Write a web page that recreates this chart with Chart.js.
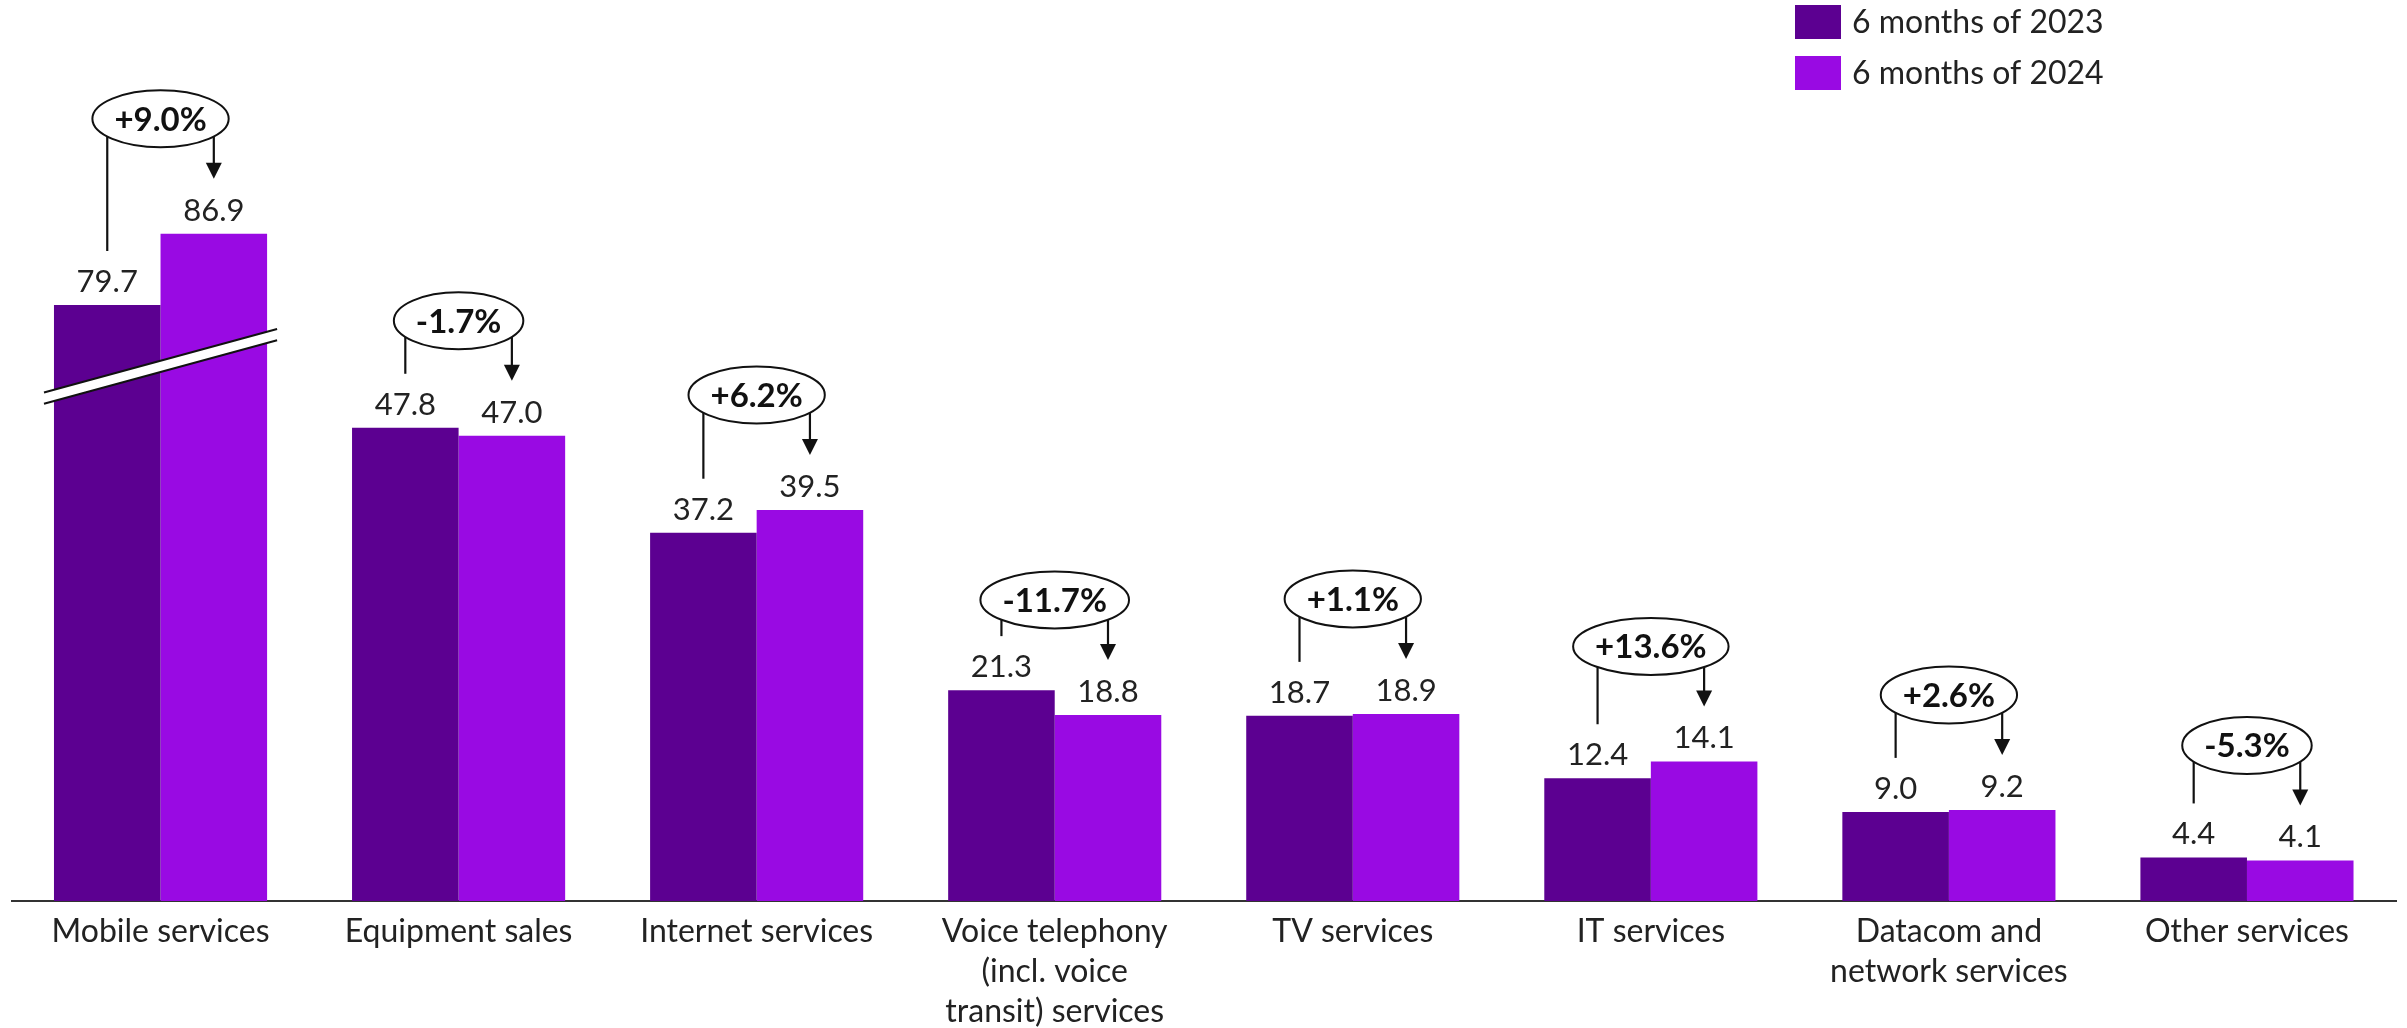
<!DOCTYPE html>
<html>
<head>
<meta charset="utf-8">
<style>
html,body{margin:0;padding:0;background:#fff;}
#wrap{width:2407px;height:1028px;position:relative;}
</style>
<script src="https://cdn.jsdelivr.net/npm/chart.js@4.4.1/dist/chart.umd.min.js"></script>
</head>
<body>
<div id="wrap"><canvas id="c" width="2407" height="1028"></canvas></div>
<script>
const categories = [
  'Mobile services',
  'Equipment sales',
  'Internet services',
  ['Voice telephony', '(incl. voice', 'transit) services'],
  'TV services',
  'IT services',
  ['Datacom and', 'network services'],
  'Other services'
];
const seriesNames = ['6 months of 2023', '6 months of 2024'];
const values2023 = [79.7, 47.8, 37.2, 21.3, 18.7, 12.4, 9.0, 4.4];
const values2024 = [86.9, 47.0, 39.5, 18.8, 18.9, 14.1, 9.2, 4.1];
const changeLabels = ['+9.0%', '-1.7%', '+6.2%', '-11.7%', '+1.1%', '+13.6%', '+2.6%', '-5.3%'];
const brokenCategories = [0];   // categories drawn with an axis break
const breakGap = 19.5;          // value units cut out by the break
const breakAt = 54;             // displayed value where the break band sits
const yMax = 80;

const colors = ['#5C0091', '#990AE3'];
const FONT = 'Lato, "Noto Sans", sans-serif';

function displayed(vals) {
  return vals.map((v, i) => brokenCategories.includes(i) ? v - breakGap : v);
}

const annotPlugin = {
  id: 'annot',
  afterDatasetsDraw(chart) {
    const ctx = chart.ctx;
    const yScale = chart.scales.y;
    const m0 = chart.getDatasetMeta(0), m1 = chart.getDatasetMeta(1);
    const raws = [values2023, values2024];
    ctx.save();

    // axis break band
    brokenCategories.forEach(i => {
      const b0 = m0.data[i], b1 = m1.data[i];
      const left = b0.x - b0.width / 2 - 10;
      const right = b1.x + b1.width / 2 + 10;
      const cx = (left + right) / 2;
      const cy = yScale.getPixelForValue(breakAt);
      const slope = -0.2725, half = 5.6;
      const yL = cy + slope * (left - cx), yR = cy + slope * (right - cx);
      ctx.fillStyle = '#fff';
      ctx.beginPath();
      ctx.moveTo(left, yL - half); ctx.lineTo(right, yR - half);
      ctx.lineTo(right, yR + half); ctx.lineTo(left, yL + half);
      ctx.closePath(); ctx.fill();
      ctx.strokeStyle = '#111'; ctx.lineWidth = 2;
      ctx.beginPath();
      ctx.moveTo(left, yL - half); ctx.lineTo(right, yR - half);
      ctx.moveTo(left, yL + half); ctx.lineTo(right, yR + half);
      ctx.stroke();
    });

    // value labels
    ctx.fillStyle = '#222';
    ctx.font = '31px ' + FONT;
    ctx.textAlign = 'center';
    ctx.textBaseline = 'alphabetic';
    [m0, m1].forEach((meta, d) => {
      meta.data.forEach((bar, i) => {
        ctx.fillText(raws[d][i].toFixed(1), bar.x, bar.y - 13);
      });
    });

    // change annotations
    ctx.font = 'bold 33px ' + FONT;
    changeLabels.forEach((txt, i) => {
      const b0 = m0.data[i], b1 = m1.data[i];
      const cx = (b0.x + b1.x) / 2;
      const cy = b1.y - 115;
      const tw = ctx.measureText(txt).width;
      const rx = tw / 2 + 22, ry = 28.5;
      ctx.lineWidth = 2;
      ctx.strokeStyle = '#111';
      ctx.fillStyle = '#fff';
      ctx.beginPath();
      ctx.ellipse(cx, cy, rx, ry, 0, 0, Math.PI * 2);
      ctx.fill(); ctx.stroke();
      ctx.fillStyle = '#111';
      ctx.textAlign = 'center';
      ctx.fillText(txt, cx, cy + 12);

      ctx.lineWidth = 2.2;
      // left line
      const dx0 = b0.x - cx;
      const ey0 = cy + ry * Math.sqrt(Math.max(0, 1 - (dx0 / rx) ** 2));
      const end0 = b0.y - 54;
      if (end0 > ey0) {
        ctx.beginPath(); ctx.moveTo(b0.x, ey0); ctx.lineTo(b0.x, end0); ctx.stroke();
      }
      // right arrow
      const dx1 = b1.x - cx;
      const ey1 = cy + ry * Math.sqrt(Math.max(0, 1 - (dx1 / rx) ** 2));
      const tip = b1.y - 55;
      const ah = 16, aw = 8;
      ctx.beginPath(); ctx.moveTo(b1.x, ey1); ctx.lineTo(b1.x, tip - ah + 1); ctx.stroke();
      ctx.beginPath();
      ctx.moveTo(b1.x, tip); ctx.lineTo(b1.x - aw, tip - ah); ctx.lineTo(b1.x + aw, tip - ah);
      ctx.closePath(); ctx.fill();
    });

    // legend
    ctx.font = '32px ' + FONT;
    ctx.textAlign = 'left';
    ctx.textBaseline = 'middle';
    chart.data.datasets.forEach((ds, d) => {
      const top = 5 + d * 51;
      ctx.fillStyle = ds.backgroundColor;
      ctx.fillRect(1795, top, 46, 34);
      ctx.fillStyle = '#222';
      ctx.fillText(ds.label, 1852, top + 18);
    });
    ctx.restore();
  }
};

new Chart(document.getElementById('c'), {
  type: 'bar',
  data: {
    labels: categories,
    datasets: [
      { label: seriesNames[0], data: displayed(values2023), backgroundColor: colors[0], borderWidth: 0, categoryPercentage: 0.715, barPercentage: 1 },
      { label: seriesNames[1], data: displayed(values2024), backgroundColor: colors[1], borderWidth: 0, categoryPercentage: 0.715, barPercentage: 1 }
    ]
  },
  options: {
    responsive: false,
    animation: false,
    devicePixelRatio: 1,
    layout: { padding: { left: 11.5, right: 11, top: 109, bottom: -15 } },
    plugins: { legend: { display: false }, tooltip: { enabled: false } },
    scales: {
      x: {
        grid: { display: false, drawTicks: false },
        border: { display: true, color: '#333', width: 2 },
        ticks: { color: '#222', font: { family: FONT, size: 32, lineHeight: 1.25 }, padding: 11, autoSkip: false, maxRotation: 0, minRotation: 0 }
      },
      y: { display: false, min: 0, max: yMax }
    }
  },
  plugins: [annotPlugin]
});
</script>
</body>
</html>
